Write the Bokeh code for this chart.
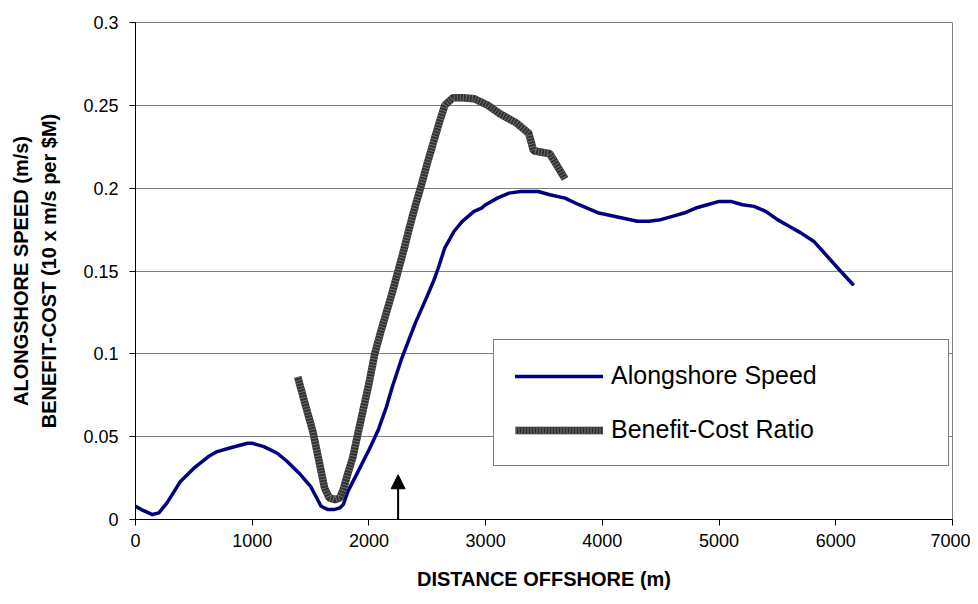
from bokeh.plotting import figure
from bokeh.models import (Range1d, LinearAxis, FixedTicker, Legend, LegendItem,
                          Arrow, NormalHead)
from bokeh.embed import file_html
from bokeh.resources import INLINE

# ---- data ----
speed_x = [0, 50, 145, 200, 270, 385, 500, 625, 700, 800, 960, 1000, 1100, 1215,
           1300, 1415, 1500, 1545, 1590, 1650, 1700, 1750, 1780, 1820, 1900, 1950,
           2000, 2080, 2150, 2200, 2275, 2350, 2400, 2500, 2560, 2600, 2650, 2730,
           2800, 2900, 2965, 3000, 3100, 3200, 3300, 3450, 3550, 3680, 3800, 3970,
           4100, 4300, 4400, 4500, 4600, 4700, 4800, 4900, 5000, 5100, 5200, 5300,
           5400, 5500, 5600, 5700, 5810, 5900, 6040, 6145]
speed_y = [0.008, 0.006, 0.003, 0.004, 0.010, 0.023, 0.031, 0.038, 0.041, 0.043,
           0.046, 0.046, 0.044, 0.040, 0.035, 0.027, 0.020, 0.014, 0.008, 0.006,
           0.006, 0.007, 0.009, 0.017, 0.028, 0.035, 0.042, 0.054, 0.068, 0.080,
           0.096, 0.110, 0.119, 0.135, 0.145, 0.153, 0.164, 0.174, 0.180, 0.186,
           0.188, 0.190, 0.194, 0.197, 0.198, 0.198, 0.196, 0.194, 0.190, 0.185,
           0.183, 0.180, 0.180, 0.181, 0.183, 0.185, 0.188, 0.190, 0.192, 0.192,
           0.190, 0.189, 0.186, 0.181, 0.177, 0.173, 0.168, 0.161, 0.150, 0.142]

bc_x = [1390, 1460, 1520, 1570, 1620, 1660, 1710, 1750, 1780, 1820, 1860, 1900,
        1950, 2000, 2050, 2100, 2150, 2200, 2250, 2300, 2350, 2400, 2450, 2500,
        2550, 2600, 2650, 2720, 2800, 2900, 3020, 3120, 3260, 3370, 3410, 3550, 3680]
bc_y = [0.086, 0.068, 0.053, 0.036, 0.019, 0.013, 0.012, 0.013, 0.018, 0.028,
        0.037, 0.050, 0.066, 0.082, 0.100, 0.113, 0.125, 0.137, 0.150, 0.163,
        0.177, 0.190, 0.202, 0.215, 0.227, 0.239, 0.250, 0.2546, 0.2546, 0.254,
        0.250, 0.245, 0.2395, 0.233, 0.2226, 0.2208, 0.2056]

arrow_x = 2250
arrow_y0 = 0.0
arrow_y1 = 0.027

x_ticks = [0, 1000, 2000, 3000, 4000, 5000, 6000, 7000]
y_ticks = [0, 0.05, 0.1, 0.15, 0.2, 0.25, 0.3]
y_tick_labels = ["0", "0.05", "0.1", "0.15", "0.2", "0.25", "0.3"]

FONT = "Liberation Sans"

p = figure(width=970, height=596, output_backend="svg", toolbar_location=None,
           x_range=Range1d(0, 7000), y_range=Range1d(0, 0.3),
           min_border_left=135, min_border_right=18, min_border_top=22,
           min_border_bottom=77, background_fill_color="white",
           border_fill_color="white")

p.outline_line_color = "#808080"
p.outline_line_width = 1
p.xgrid.visible = False
p.ygrid.grid_line_color = "#808080"
p.ygrid.grid_line_width = 1
p.ygrid.ticker = FixedTicker(ticks=y_ticks)

xa = p.xaxis[0]
xa.ticker = FixedTicker(ticks=x_ticks)
xa.axis_label = "DISTANCE OFFSHORE (m)"
ya = p.yaxis[0]
ya.ticker = FixedTicker(ticks=y_ticks)
ya.major_label_overrides = {t: l for t, l in zip(y_ticks, y_tick_labels)}
ya.axis_label = "BENEFIT-COST (10 x m/s per $M)"

for ax in (xa, ya):
    ax.axis_line_color = "black"
    ax.axis_line_width = 1
    ax.major_tick_line_color = "black"
    ax.major_tick_in = 0
    ax.major_tick_out = 6
    ax.minor_tick_line_color = None
    ax.major_label_text_font = FONT
    ax.major_label_text_font_size = "18px"
    ax.major_label_text_color = "black"
    ax.axis_label_text_font = FONT
    ax.axis_label_text_font_style = "bold"
    ax.axis_label_text_font_size = "20px"
    ax.axis_label_text_color = "black"
xa.major_label_standoff = 8
ya.major_label_standoff = 11
xa.axis_label_standoff = 18
ya.axis_label_standoff = 20

ya2 = LinearAxis(axis_label="ALONGSHORE SPEED (m/s)", ticker=FixedTicker(ticks=[]),
                 axis_line_color=None, major_tick_line_color=None,
                 minor_tick_line_color=None, major_label_text_font_size="0px",
                 major_tick_out=0, major_tick_in=0, major_label_standoff=0,
                 axis_label_standoff=4, axis_label_text_font=FONT,
                 axis_label_text_font_style="bold", axis_label_text_font_size="20px",
                 axis_label_text_color="black")
p.add_layout(ya2, "left")

r_speed = p.line(speed_x, speed_y, line_color="#000080", line_width=3.5,
                 line_join="round", line_cap="round")
r_bc = p.line(bc_x, bc_y, line_color="#303030", line_width=7.5)
r_bc2 = p.line(bc_x, bc_y, line_color="#707070", line_width=7.5, line_dash="1 2")

p.add_layout(Arrow(end=NormalHead(size=14, fill_color="black", line_color="black"),
                   x_start=arrow_x, y_start=arrow_y0, x_end=arrow_x, y_end=arrow_y1,
                   line_color="black", line_width=2))

legend = Legend(items=[LegendItem(label="Alongshore Speed", renderers=[r_speed]),
                       LegendItem(label="Benefit-Cost Ratio", renderers=[r_bc, r_bc2])],
                location=(358, 53), margin=0, padding=21, spacing=25,
                glyph_width=88, glyph_height=28, label_height=28, label_width=316,
                label_standoff=8, label_text_font=FONT, label_text_font_size="25px",
                label_text_color="black", border_line_color="black",
                border_line_width=1, background_fill_color="white",
                background_fill_alpha=1.0)
p.add_layout(legend)

open("out.html", "w").write(file_html(p, INLINE))
